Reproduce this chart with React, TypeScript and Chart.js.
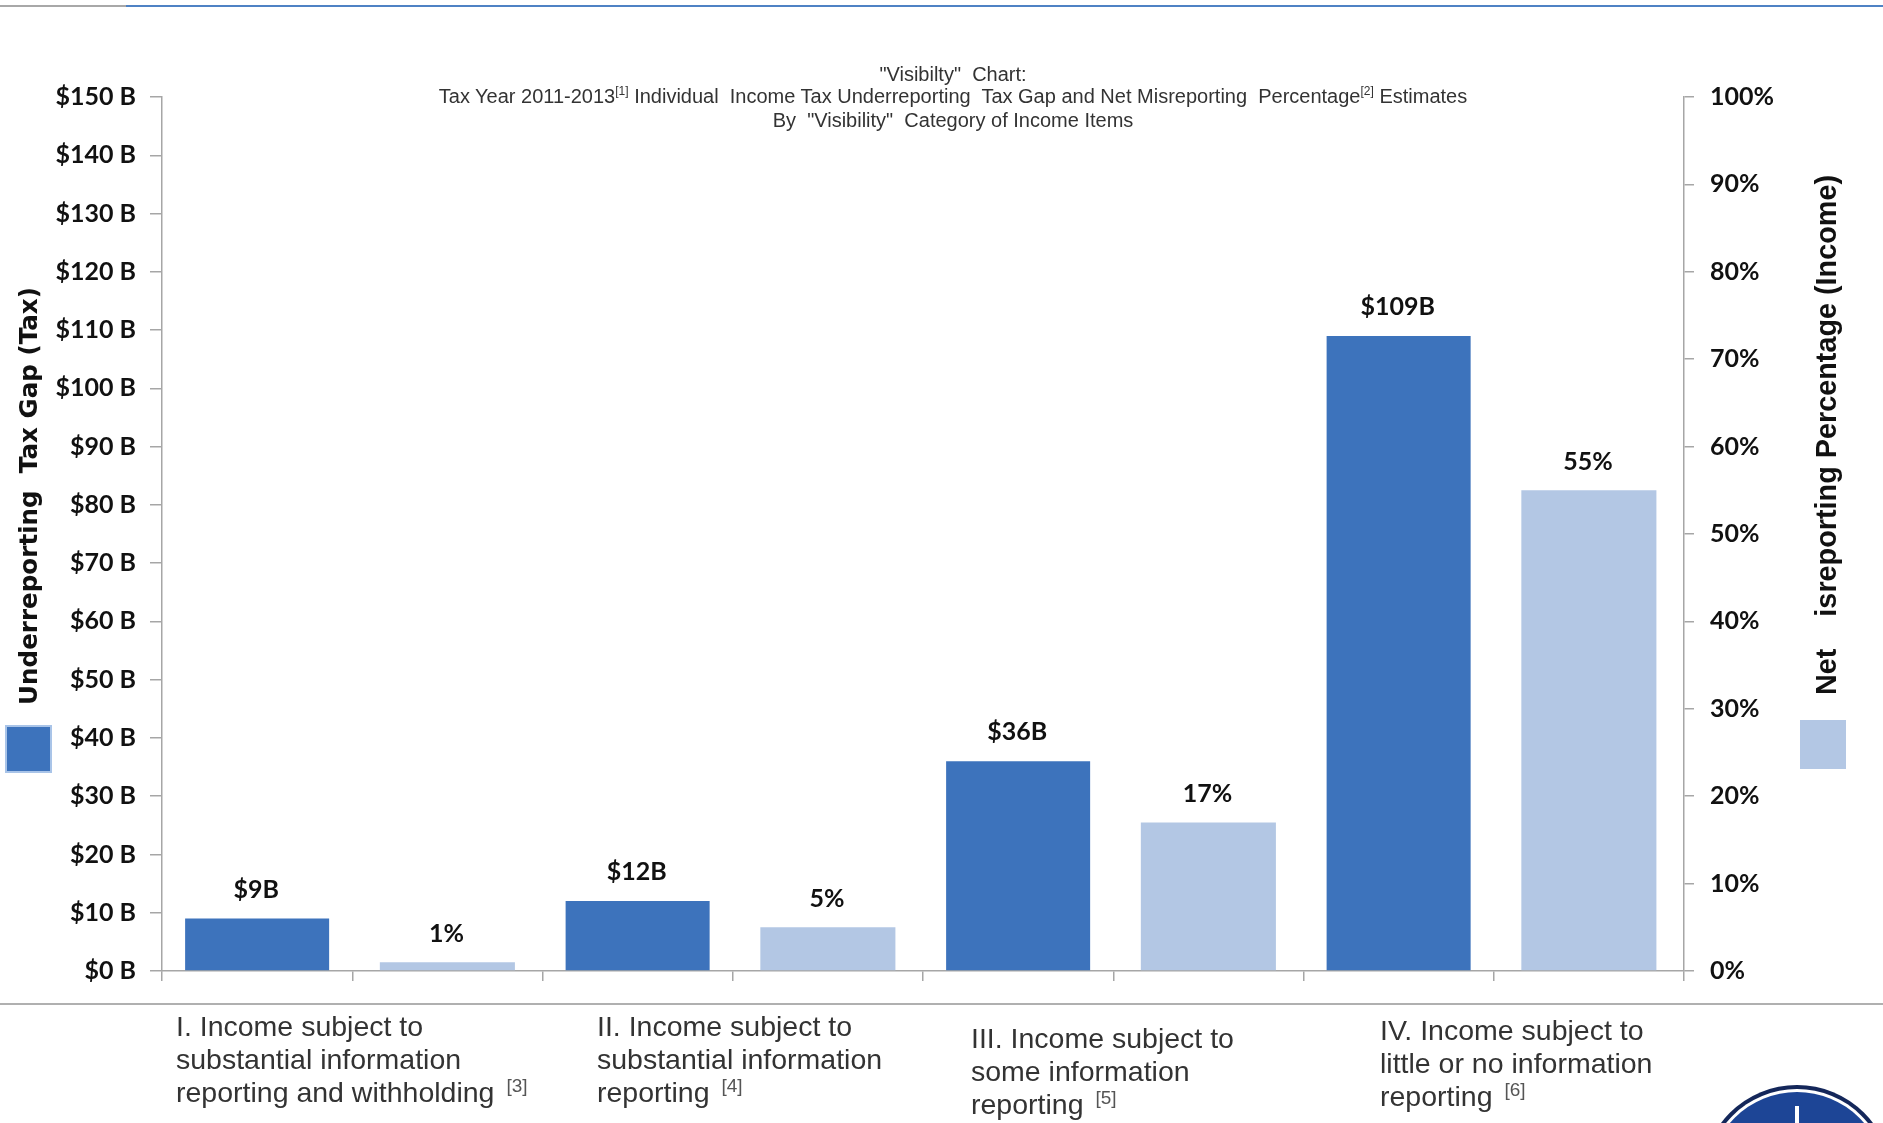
import React, { useEffect, useRef } from "react";
import { Chart, registerables } from "chart.js";

Chart.register(...registerables);

// One slot per bar; each income category owns a tax-gap slot and a misreporting slot.
const slots = ["I gap", "I pct", "II gap", "II pct", "III gap", "III pct", "IV gap", "IV pct"];
const taxGapBillions = [9, null, 12, null, 36, null, 109, null];
const misreportingPercent = [null, 1, null, 5, null, 17, null, 55];

const gapAxisTitle = "Underreporting  Tax Gap (Tax)";
const pctAxisTitle = "Net    isreporting Percentage (Income)";

const DARK = "#3d73bc";
const LIGHT = "#b3c7e4";
const AXIS = "#a6a6a6";
const INK = "#111111";
const LABEL_FONT = "bold 25px Lato";

const captions = [
  { x: 176, y: 1010, lines: ["I. Income subject to", "substantial information", "reporting and withholding"], note: "[3]" },
  { x: 597, y: 1010, lines: ["II. Income subject to", "substantial information", "reporting"], note: "[4]" },
  { x: 971, y: 1022, lines: ["III. Income subject to", "some information", "reporting"], note: "[5]" },
  { x: 1380, y: 1014, lines: ["IV. Income subject to", "little or no information", "reporting"], note: "[6]" },
];

// Values above the bars, the rotated axis names, swatches and the seal at the page corner.
const annotations = {
  id: "annotations",
  beforeDraw(chart: any) {
    const { ctx, width } = chart;
    ctx.save();
    ctx.fillStyle = "#ffffff";
    ctx.fillRect(0, 0, width, chart.height);
    ctx.fillStyle = "#a8a8a8";
    ctx.fillRect(0, 5, 126, 2);
    ctx.fillStyle = "#4f82c4";
    ctx.fillRect(126, 5, width - 126, 2);
    ctx.fillStyle = "#b0b0b0";
    ctx.fillRect(0, 1003, width, 2);
    ctx.restore();
  },
  afterDatasetsDraw(chart: any) {
    const { ctx } = chart;
    ctx.save();
    ctx.fillStyle = INK;
    ctx.font = LABEL_FONT;
    ctx.textAlign = "center";
    ctx.textBaseline = "middle";
    chart.data.datasets.forEach((ds: any, d: number) => {
      chart.getDatasetMeta(d).data.forEach((bar: any, i: number) => {
        const v = ds.data[i];
        if (v === null) return;
        ctx.fillText(d === 0 ? `$${v}B` : `${v}%`, bar.x - 1, bar.y - (d === 0 ? 29 : 28));
      });
    });

    const rotated = (text: string, x: number, y: number, font: string) => {
      ctx.save();
      ctx.translate(x, y);
      ctx.rotate(-Math.PI / 2);
      ctx.font = font;
      ctx.fillText(text, 0, 0);
      ctx.restore();
    };
    rotated(gapAxisTitle, 31, 496, "bold 24.6px 'DejaVu Sans'");
    rotated(pctAxisTitle, 1828, 435, "bold 28.8px 'Liberation Sans'");

    ctx.fillStyle = "#a9c4e8";
    ctx.fillRect(5, 725, 47, 48);
    ctx.fillStyle = DARK;
    ctx.fillRect(7, 727, 43, 44);
    ctx.fillStyle = LIGHT;
    ctx.fillRect(1800, 720, 46, 49);

    const rings: [number, string][] = [[95, "#14275a"], [91, "#ffffff"], [88, "#1d4596"]];
    rings.forEach(([r, c]) => {
      ctx.beginPath();
      ctx.arc(1797, 1180, r, 0, Math.PI * 2);
      ctx.fillStyle = c;
      ctx.fill();
    });
    ctx.fillStyle = "#ffffff";
    ctx.fillRect(1795, 1106, 4, 17);
    ctx.restore();
  },
};

const titleStyle: React.CSSProperties = {
  position: "absolute",
  left: 0,
  width: 1906,
  textAlign: "center",
  font: "20px 'Liberation Sans'",
  lineHeight: "23px",
  color: "#333333",
  whiteSpace: "pre",
};

export default function App() {
  const ref = useRef<HTMLCanvasElement>(null);

  useEffect(() => {
    const chart = new Chart(ref.current as HTMLCanvasElement, {
      type: "bar",
      data: {
        labels: slots,
        datasets: [
          { data: taxGapBillions, yAxisID: "y", backgroundColor: DARK, grouped: false, barPercentage: 0.757, categoryPercentage: 1 },
          { data: misreportingPercent, yAxisID: "y1", backgroundColor: LIGHT, grouped: false, barPercentage: 0.71, categoryPercentage: 1 },
        ] as any,
      },
      options: {
        responsive: false,
        animation: false,
        layout: { padding: { top: 97 } },
        plugins: { legend: { display: false }, tooltip: { enabled: false }, title: { display: false } },
        scales: {
          x: {
            offset: true,
            ticks: { display: false },
            grid: { drawOnChartArea: false, color: AXIS, tickLength: 10, lineWidth: 1.5 },
            border: { color: AXIS, width: 1.5 },
            afterFit: (s: any) => { s.height = 152; },
          },
          y: {
            position: "left",
            min: 0,
            max: 150,
            ticks: { stepSize: 10, color: INK, font: { family: "Lato", weight: "bold", size: 25 }, padding: 14, callback: (v: any) => `$${v} B` },
            grid: { drawOnChartArea: false, color: AXIS, tickLength: 12, lineWidth: 1.5 },
            border: { color: AXIS, width: 1.5 },
            afterFit: (s: any) => { s.width = 162; },
          },
          y1: {
            position: "right",
            min: 0,
            max: 100,
            ticks: { stepSize: 10, color: INK, font: { family: "Lato", weight: "bold", size: 25 }, padding: 16, callback: (v: any) => `${v}%` },
            grid: { drawOnChartArea: false, color: AXIS, tickLength: 10, lineWidth: 1.5 },
            border: { color: AXIS, width: 1.5 },
            afterFit: (s: any) => { s.width = 199; },
          },
        },
      } as any,
      plugins: [annotations],
    });
    return () => chart.destroy();
  }, []);

  return (
    <div style={{ position: "absolute", left: 0, top: 0, width: 1883, height: 1123, overflow: "hidden", background: "#fff" }}>
      <canvas ref={ref} width={1883} height={1123} style={{ display: "block" }} />
      <div style={{ ...titleStyle, top: 63 }}>"Visibilty"  Chart:</div>
      <div style={{ ...titleStyle, top: 85 }}>
        Tax Year 2011-2013<sup style={{ fontSize: 12, lineHeight: 0 }}>[1]</sup> Individual  Income Tax Underreporting  Tax Gap and Net Misreporting  Percentage<sup style={{ fontSize: 12, lineHeight: 0 }}>[2]</sup> Estimates
      </div>
      <div style={{ ...titleStyle, top: 109 }}>By  "Visibility"  Category of Income Items</div>
      {captions.map((c) => (
        <div key={c.x} style={{ position: "absolute", left: c.x, top: c.y, font: "28.5px 'Liberation Sans'", lineHeight: "33px", color: "#333333", whiteSpace: "nowrap" }}>
          {c.lines.map((line, i) => (
            <div key={line}>
              {line}
              {i === 2 && <sup style={{ fontSize: 19, lineHeight: 0, marginLeft: 12, color: "#555555" }}>{c.note}</sup>}
            </div>
          ))}
        </div>
      ))}
    </div>
  );
}
